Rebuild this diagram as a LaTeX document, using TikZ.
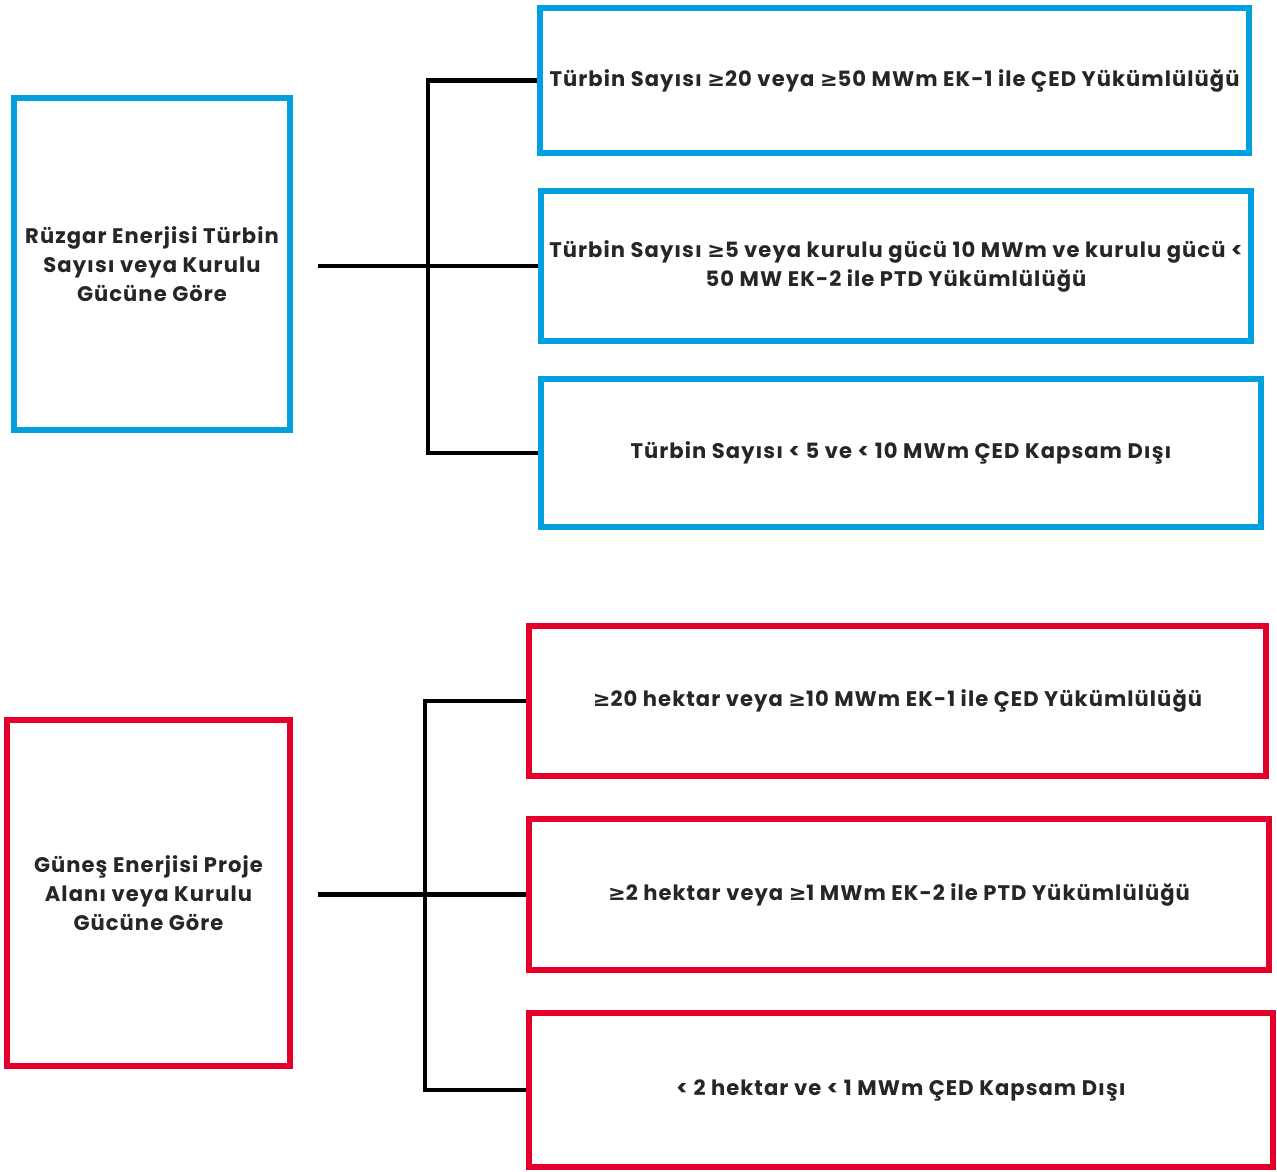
\documentclass[tikz,border=0pt]{standalone}
\usepackage{fontspec}
\setmainfont{Poppins}[LetterSpace=5]
\newfontfamily\symfont{DejaVu Sans}
\newcommand{\geqmark}{{\symfont\bfseries ≥}}
\definecolor{windblue}{RGB}{0,160,223}
\definecolor{solarred}{RGB}{228,0,43}
\usetikzlibrary{positioning}

\begin{document}
\begin{tikzpicture}[
      x=0.02cm, y=-0.02cm,
      line width=3.4pt,
      inner sep=0pt,
      font=\bfseries\fontsize{12}{16.5}\selectfont,
      windbox/.style={draw=windblue, align=center, text=black!85},
      solarbox/.style={draw=solarred, align=center, text=black!85},
      wire/.style={black, line width=2.6pt}]

    % background & canvas
    \useasboundingbox (0,0) rectangle (1277,1171);
    \fill[white] (0,0) rectangle (1277,1171);

    % wind x=152
    \node (wind) at (152,264) [windbox, minimum width=5.52cm, minimum height=6.66cm]
      {Rüzgar Enerjisi Türbin\\Sayısı veya Kurulu\\Gücüne Göre};

    % wind outcomes x=895
    \node (wind1) at (894.5,80.5) [windbox, minimum width=14.18cm, minimum height=2.9cm]
      {Türbin Sayısı \geqmark20 veya \geqmark50 MWm EK-1 ile ÇED Yükümlülüğü};
    \node (wind2) at (896,266) [windbox, minimum width=14.2cm, minimum height=3cm]
      {Türbin Sayısı \geqmark5 veya kurulu gücü 10 MWm ve kurulu gücü <\\50 MW EK-2 ile PTD Yükümlülüğü};
    \node (wind3) at (901,453) [windbox, minimum width=14.4cm, minimum height=2.96cm]
      {Türbin Sayısı < 5 ve < 10 MWm ÇED Kapsam Dışı};

    % solar x=148
    \node (solar) at (148.5,893) [solarbox, minimum width=5.66cm, minimum height=6.92cm]
      {Güneş Enerjisi Proje\\Alanı veya Kurulu\\Gücüne Göre};

    % solar outcomes x=900
    \node (solar1) at (897.5,701) [solarbox, minimum width=14.74cm, minimum height=3cm]
      {\geqmark20 hektar veya \geqmark10 MWm EK-1 ile ÇED Yükümlülüğü};
    \node (solar2) at (899,894.5) [solarbox, minimum width=14.8cm, minimum height=3.02cm]
      {\geqmark2 hektar veya \geqmark1 MWm EK-2 ile PTD Yükümlülüğü};
    \node (solar3) at (901,1090) [solarbox, minimum width=14.88cm, minimum height=3.08cm]
      {< 2 hektar ve < 1 MWm ÇED Kapsam Dışı};

    % junctions
    \coordinate (windstub) at (318,266);
    \coordinate (windbus) at (428,266);
    \coordinate (solarstub) at (318,894.5);
    \coordinate (solarbus) at (425,894.5);

    % wiring (wind - outcomes)
    \draw[wire] (windstub) -- (wind2.west);
    \draw[wire] (wind1.west) -| (windbus) |- (wind3.west);

    % wiring (solar - outcomes)
    \draw[wire] (solarstub) -- (solar2.west);
    \draw[wire] (solar1.west) -| (solarbus) |- (solar3.west);

  \end{tikzpicture}
\end{document}
